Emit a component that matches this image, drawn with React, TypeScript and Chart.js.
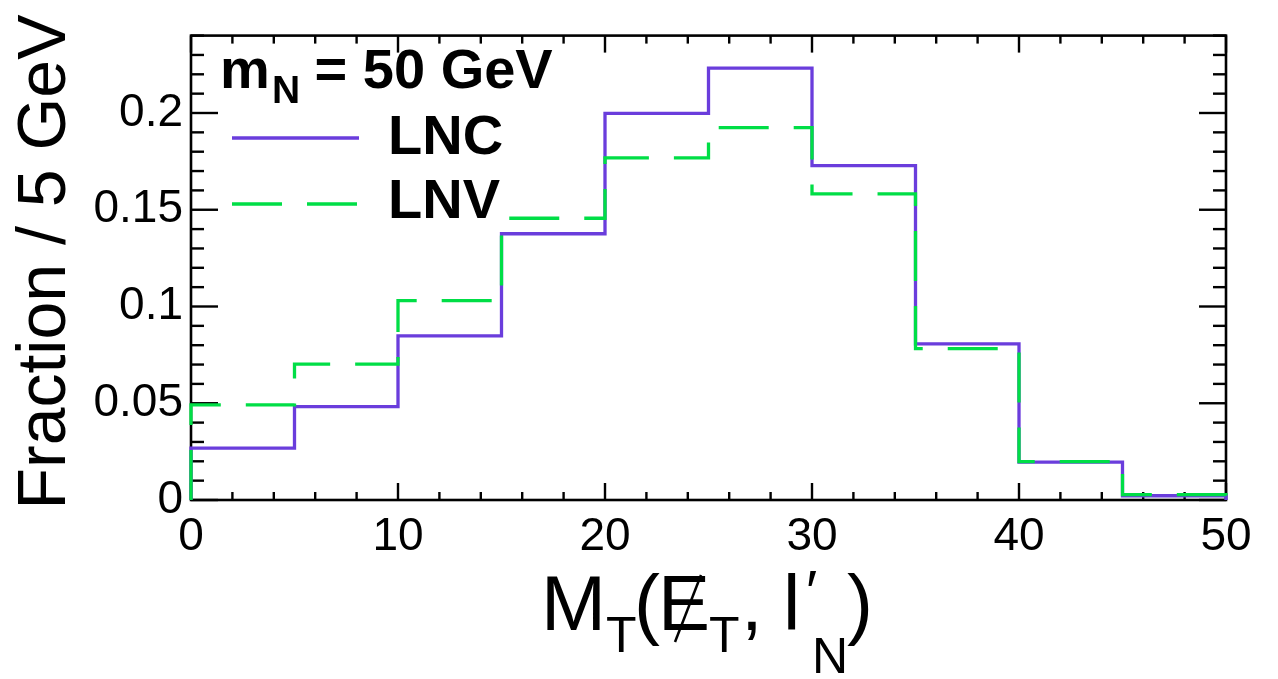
import React, { useEffect, useRef } from "react";
import { Chart, registerables } from "chart.js";

Chart.register(...registerables);

// ---- data ----
const binLow = [0, 5, 10, 15, 20, 25, 30, 35, 40, 45];
const binWidth = 5;
const lncValues = [0.0268, 0.0483, 0.0848, 0.1376, 0.1998, 0.2232, 0.1728, 0.0807, 0.0196, 0.0022];
const lnvValues = [0.0492, 0.0702, 0.1030, 0.1456, 0.1768, 0.1924, 0.1582, 0.0782, 0.0198, 0.0028];
const xTickValues = [0, 10, 20, 30, 40, 50];
const xTickLabels = ["0", "10", "20", "30", "40", "50"];
const yTickValues = [0, 0.05, 0.1, 0.15, 0.2];
const yTickLabels = ["0", "0.05", "0.1", "0.15", "0.2"];
const xMin = 0;
const xMax = 50;
const yMin = 0;
const yMax = 0.24;
const xMinorStep = 2;
const yMinorStep = 0.01;

const PURPLE = "#6a3ddc";
const GREEN = "#00de46";
const FONT = "'Liberation Sans', Arial, Helvetica, sans-serif";

function histPoints(values: number[]) {
  const pts: { x: number; y: number }[] = [{ x: binLow[0], y: 0 }];
  values.forEach((v, i) => {
    pts.push({ x: binLow[i], y: v });
    pts.push({ x: binLow[i] + binWidth, y: v });
  });
  pts.push({ x: binLow[binLow.length - 1] + binWidth, y: 0 });
  return pts;
}

const framePlugin = {
  id: "rootFrame",
  beforeDatasetsDraw(chart: any) {
    const { ctx, chartArea: a, scales } = chart;
    const x = scales.x;
    const y = scales.y;
    ctx.save();
    ctx.strokeStyle = "#000";
    ctx.lineWidth = 2.4;
    ctx.lineCap = "butt";
    const seg = (x1: number, y1: number, x2: number, y2: number) => {
      ctx.beginPath();
      ctx.moveTo(x1, y1);
      ctx.lineTo(x2, y2);
      ctx.stroke();
    };
    // x ticks
    const nx = Math.round((xMax - xMin) / xMinorStep);
    for (let k = 0; k <= nx; k++) {
      const v = xMin + k * xMinorStep;
      const px = x.getPixelForValue(v);
      const major = xTickValues.some((t) => Math.abs(t - v) < 1e-9);
      const len = major ? 17 : 8;
      seg(px, a.bottom, px, a.bottom - len);
      seg(px, a.top, px, a.top + len);
    }
    // y ticks
    const ny = Math.floor((yMax - yMin) / yMinorStep + 1e-6);
    for (let k = 0; k <= ny; k++) {
      const v = yMin + k * yMinorStep;
      const py = y.getPixelForValue(v);
      const major = yTickValues.some((t) => Math.abs(t - v) < 1e-9);
      const len = major ? 27 : 13;
      seg(a.left, py, a.left + len, py);
      seg(a.right, py, a.right - len, py);
    }
    ctx.lineWidth = 2.6;
    ctx.strokeRect(a.left, a.top, a.right - a.left, a.bottom - a.top);
    ctx.restore();
  },
  afterDraw(chart: any) {
    const { ctx } = chart;
    ctx.save();
    ctx.fillStyle = "#000";
    ctx.textAlign = "left";
    ctx.textBaseline = "alphabetic";
    const txt = (s: string, x: number, y: number, font: string) => {
      ctx.font = font;
      ctx.fillText(s, x, y);
    };

    // ---- legend ----
    const B = (px: number) => `bold ${px}px ${FONT}`;
    txt("m", 220, 88, B(56));
    txt("N", 272, 103, B(39));
    txt(" = 50 GeV", 299, 88, B(56));

    ctx.lineWidth = 3.3;
    ctx.lineCap = "butt";
    ctx.strokeStyle = PURPLE;
    ctx.beginPath();
    ctx.moveTo(232, 138);
    ctx.lineTo(359, 138);
    ctx.stroke();
    txt("LNC", 388, 154, B(56));

    ctx.strokeStyle = GREEN;
    ctx.setLineDash([50, 25]);
    ctx.beginPath();
    ctx.moveTo(232, 204);
    ctx.lineTo(357, 204);
    ctx.stroke();
    ctx.setLineDash([]);
    txt("LNV", 388, 218, B(56));

    // ---- y title ----
    ctx.save();
    ctx.translate(65, 262);
    ctx.rotate(-Math.PI / 2);
    ctx.textAlign = "center";
    txt("Fraction / 5 GeV", 0, 0, `68px ${FONT}`);
    ctx.restore();

    // ---- x title: M_T(E̸_T, l'_N) ----
    const M = `78px ${FONT}`;
    const S = `50px ${FONT}`;
    txt("M", 541, 630, M);
    txt("T", 606, 652, S);
    txt("(", 634, 630, M);
    txt("E", 658, 630, M);
    ctx.strokeStyle = "#000";
    ctx.lineWidth = 2.5;
    ctx.beginPath();
    ctx.moveTo(701, 575);
    ctx.lineTo(675, 642);
    ctx.stroke();
    txt("T", 709, 652, S);
    txt(",", 741, 630, M);
    txt("l", 783, 630, M);
    txt("\u2032", 806, 612, `60px ${FONT}`);
    txt("N", 812, 673, S);
    txt(")", 847, 630, M);

    ctx.restore();
  },
};

export default function App() {
  const ref = useRef<HTMLCanvasElement | null>(null);
  useEffect(() => {
    if (!ref.current) return;
    const chart = new Chart(ref.current, {
      type: "line",
      data: {
        datasets: [
          {
            label: "LNV",
            data: histPoints(lnvValues),
            borderColor: GREEN,
            borderWidth: 3.3,
            borderDash: [50, 25],
            borderCapStyle: "butt",
            borderJoinStyle: "miter",
            pointRadius: 0,
            tension: 0,
            fill: false,
            clip: false,
          } as any,
          {
            label: "LNC",
            data: histPoints(lncValues),
            borderColor: PURPLE,
            borderWidth: 3.3,
            borderCapStyle: "butt",
            borderJoinStyle: "miter",
            pointRadius: 0,
            tension: 0,
            fill: false,
            clip: false,
          } as any,
        ],
      },
      options: {
        animation: false,
        responsive: false,
        devicePixelRatio: 1,
        layout: { padding: { top: 27, right: 52, left: 0, bottom: 0 } },
        plugins: { legend: { display: false }, tooltip: { enabled: false } },
        events: [],
        scales: {
          x: {
            type: "linear",
            min: xMin,
            max: xMax,
            grid: { display: false, drawTicks: false },
            border: { display: false },
            afterBuildTicks: (s: any) => {
              s.ticks = xTickValues.map((v) => ({ value: v }));
            },
            afterFit: (s: any) => {
              s.height = 179;
            },
            ticks: {
              autoSkip: false,
              maxRotation: 0,
              padding: 10,
              color: "#000",
              font: { family: FONT, size: 46 },
              callback: (v: any) => {
                const i = xTickValues.indexOf(Number(v));
                return i >= 0 ? xTickLabels[i] : "";
              },
            },
          },
          y: {
            type: "linear",
            min: yMin,
            max: yMax,
            grid: { display: false, drawTicks: false },
            border: { display: false },
            afterBuildTicks: (s: any) => {
              s.ticks = yTickValues.map((v) => ({ value: v }));
            },
            afterFit: (s: any) => {
              s.width = 191;
            },
            ticks: {
              autoSkip: false,
              padding: 8,
              color: "#000",
              font: { family: FONT, size: 46 },
              callback: (v: any) => {
                const i = yTickValues.findIndex((t) => Math.abs(t - Number(v)) < 1e-9);
                return i >= 0 ? yTickLabels[i] : "";
              },
            },
          },
        },
      },
      plugins: [framePlugin],
    } as any);
    return () => chart.destroy();
  }, []);
  return (
    <div style={{ position: "absolute", left: 0, top: 0, width: 1278, height: 679, background: "#fff" }}>
      <canvas ref={ref} width={1278} height={679} style={{ display: "block", width: 1278, height: 679 }} />
    </div>
  );
}
